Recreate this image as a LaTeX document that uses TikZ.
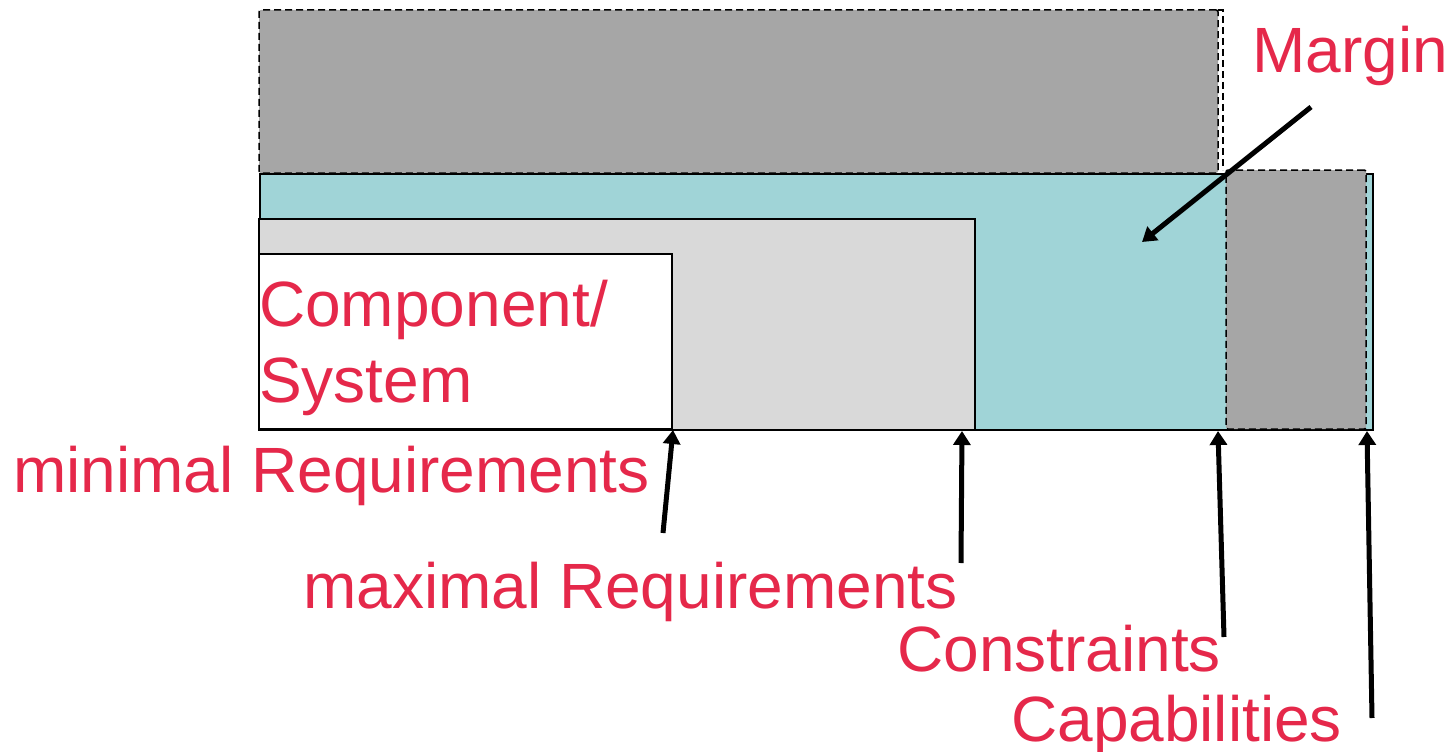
\documentclass[tikz,border=0pt]{standalone}
\usepackage{fontspec}
\setmainfont{Liberation Sans}
\usetikzlibrary{arrows.meta}
\definecolor{teal1}{RGB}{160,212,215}
\definecolor{dgray}{RGB}{166,166,166}
\definecolor{lgray}{RGB}{217,217,217}
\definecolor{redtxt}{RGB}{229,40,74}
\tikzset{
  box/.style={draw=black, line width=1.5pt, inner sep=0pt, outer sep=0pt, anchor=north west},
  dbox/.style={box, dash pattern=on 7pt off 4pt, rounded corners=2pt},
  dline/.style={draw=black, line width=1.5pt, dash pattern=on 7pt off 4pt},
  lbl/.style={text=redtxt, inner sep=0pt, anchor=base west, font=\fontsize{64}{76}\selectfont},
  arr/.style={line width=5pt, -{Triangle[length=14pt,width=17pt]}},
}
\begin{document}
\begin{tikzpicture}[x=1pt,y=-1pt]
\useasboundingbox (0,0) rectangle (1452,752);
% top gray margin box
\node[dbox, fill=dgray, minimum width=959pt, minimum height=163pt] (topm) at (259,10) {};
% offset outline on its right side
\coordinate (o1) at (1218,10);
\coordinate (o2) at (1223,10);
\coordinate (o3) at (1223,170);
\draw[dline] (o1) -- (o2) -- (o3);
% teal capability area
\node[box, fill=teal1, minimum width=1113pt, minimum height=256pt] (teal) at (260,174) {};
% right gray margin box
\node[dbox, fill=dgray, minimum width=140pt, minimum height=259pt] (rgm) at (1226,170) {};
% maximal requirements
\node[box, fill=lgray, minimum width=716pt, minimum height=211pt] (maxr) at (259,219) {};
% minimal requirements / component
\node[box, fill=white, minimum width=413pt, minimum height=175pt] (minr) at (259,254) {};
% labels
\node[lbl] (comp) at (259,326) {\parbox[t]{400pt}{\raggedright\fontsize{64}{76}\selectfont Component/\\System}};
\node[lbl] (tmin) at (13,492) {minimal Requirements};
\node[lbl] (tmax) at (303,608) {maximal Requirements};
\node[lbl] (tcon) at (897,671) {Constraints};
\node[lbl] (tcap) at (1011,741) {Capabilities};
\node[lbl] (tmar) at (1252,73) {Margin};
% arrow tails
\coordinate (a1) at (663,533);
\coordinate (a2) at (961,563);
\coordinate (a3) at (1224,637);
\coordinate (a4) at (1372,718);
\coordinate (a5) at (1311,107);
\coordinate (a5t) at (1142,242);
% arrow targets
\coordinate (b1) at (673,430);
\coordinate (b2) at (962,431);
\coordinate (b3) at (1218,431);
\coordinate (b4) at (1367,431);
\draw[arr] (a1) -- (b1);
\draw[arr] (a2) -- (b2);
\draw[arr] (a3) -- (b3);
\draw[arr] (a4) -- (b4);
\draw[arr] (a5) -- (a5t);
\end{tikzpicture}
\end{document}
